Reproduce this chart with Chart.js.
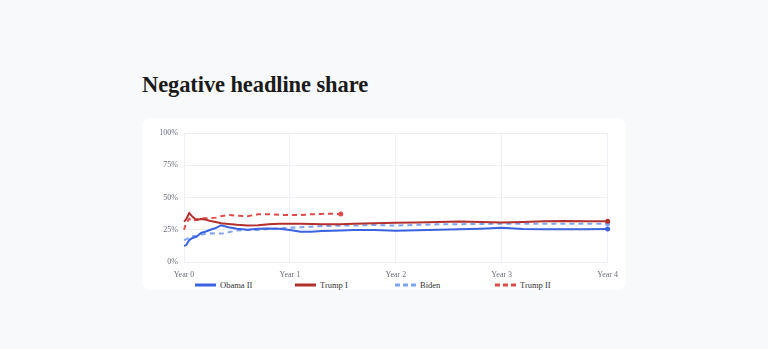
<!DOCTYPE html>
<html>
<head>
<meta charset="utf-8">
<script src="https://cdn.jsdelivr.net/npm/chart.js@4"></script>
<style>
    body { margin: 0; background: #f8f9fb; width: 768px; height: 349px; overflow: hidden; font-family: "Liberation Serif", "DejaVu Serif", serif; }
    h1 { position: absolute; left: 142px; top: 72px; margin: 0; font-size: 22.5px; font-weight: bold; color: #1a1a1a; letter-spacing: -0.1px; }
    .card { position: absolute; left: 142px; top: 118px; width: 484px; height: 172px; background: #fff; border-radius: 8px; }
    .card canvas { position: absolute; left: 0; top: 0; }
    #legend { position: absolute; left: 53px; top: 162px; display: flex; font-size: 8.5px; color: #333; }
    .legend-item { width: 100px; display: flex; align-items: center; gap: 4px; }
    .legend-item svg { display: block; }
</style>
</head>
<body>
<h1>Negative headline share</h1>
<div class="card">
    <canvas id="chart" width="484" height="162"></canvas>
    <div id="legend"></div>
</div>
<script>
// time in years since inauguration
const years = [0, 0.02, 0.05, 0.08, 0.12, 0.16, 0.2, 0.25, 0.3, 0.35, 0.42, 0.5, 0.6, 0.7, 0.8, 0.9, 1.0, 1.1, 1.2, 1.3, 1.4, 1.48, 1.6, 1.8, 2.0, 2.2, 2.4, 2.6, 2.8, 3.0, 3.2, 3.4, 3.6, 3.8, 4.0];

const obama2 = [12.5, 13, 17, 18.6, 19.6, 22.5, 23.5, 25, 26.3, 28.5, 27, 25.8, 25, 25.8, 26, 25.8, 24.8, 23.5, 23.5, 24, 24.2, 24.4, 24.8, 24.8, 24.2, 24.6, 25, 25.3, 25.8, 26.6, 25.6, 25.3, 25.3, 25.4, 25.6];
const trump1 = [31.3, 33, 38, 35, 32.6, 33.3, 33, 31.8, 31, 30, 29.5, 28.8, 28.3, 28.5, 29.3, 29.6, 29.7, 29.7, 29.5, 29.3, 29.2, 29.3, 29.6, 30, 30.5, 30.7, 31, 31.3, 31, 30.7, 31, 31.5, 31.8, 31.5, 31.6];
const biden = [17, 17.5, 19, 20, 20.4, 21, 21.8, 22.2, 22, 22, 23, 24.5, 24.8, 24.8, 25.5, 26, 26.5, 27, 27.4, 27.8, 28, 28.2, 28.2, 28.7, 28.2, 28.8, 29.2, 29.3, 29.5, 29.6, 29.7, 29.7, 29.7, 29.6, 29.6];
const trump2 = [25, 30, 33.5, 31.5, 33, 33.8, 34, 34, 34.4, 35.5, 36.4, 35.9, 35.5, 37, 37, 36.6, 36.4, 36.4, 37, 37.3, 37.4, 37.2];

const yTicks = [0, 25, 50, 75, 100];
const xTicks = [0, 1, 2, 3, 4];

const seriesInfo = [
    { label: 'Obama II', values: obama2, color: '#3b63e0', dash: [] },
    { label: 'Trump I', values: trump1, color: '#b3302e', dash: [] },
    { label: 'Biden', values: biden, color: '#7fa5f0', dash: [5, 4] },
    { label: 'Trump II', values: trump2, color: '#e04a4a', dash: [5, 4] }
];

const tickFont = { family: '"Liberation Serif", serif', size: 8 };

const datasets = seriesInfo.map(s => ({
    label: s.label,
    data: s.values.map((v, i) => ({ x: years[i], y: v })),
    borderColor: s.color,
    backgroundColor: s.color,
    borderWidth: 2,
    borderDash: s.dash,
    tension: 0,
    clip: false,
    pointRadius: ctx => ctx.dataIndex === s.values.length - 1 ? 2.5 : 0,
    pointBorderWidth: 0,
    pointHoverRadius: 0
}));

new Chart(document.getElementById('chart'), {
    type: 'line',
    data: { datasets },
    options: {
        responsive: false,
        animation: false,
        layout: { padding: { top: 15, right: 18, left: 0, bottom: 0 } },
        plugins: { legend: { display: false }, tooltip: { enabled: false } },
        scales: {
            x: {
                type: 'linear',
                min: 0, max: 4,
                afterBuildTicks: axis => { axis.ticks = xTicks.map(v => ({ value: v })); },
                afterFit: axis => { axis.height = 18; },
                grid: { color: '#eef0f5', drawTicks: false },
                border: { color: '#eef0f5' },
                ticks: { callback: v => 'Year ' + v, color: '#6b6f7b', font: tickFont, padding: 8, maxRotation: 0 }
            },
            y: {
                min: 0, max: 100,
                afterBuildTicks: axis => { axis.ticks = yTicks.map(v => ({ value: v })); },
                afterFit: axis => { axis.width = 42; },
                grid: { color: '#eef0f5', drawTicks: false },
                border: { color: '#eef0f5' },
                ticks: { callback: v => v + '%', color: '#6b6f7b', font: tickFont, padding: 6 }
            }
        }
    }
});

// legend as fixed-width html items
const legend = document.getElementById('legend');
legend.innerHTML = seriesInfo.map(s => `
    <div class="legend-item">
        <svg width="21" height="4"><line x1="0" y1="2" x2="21" y2="2" stroke="${s.color}" stroke-width="3" stroke-dasharray="${s.dash.length ? '5,3' : 'none'}"/></svg>
        <span>${s.label}</span>
    </div>
`).join('');
</script>
</body>
</html>
